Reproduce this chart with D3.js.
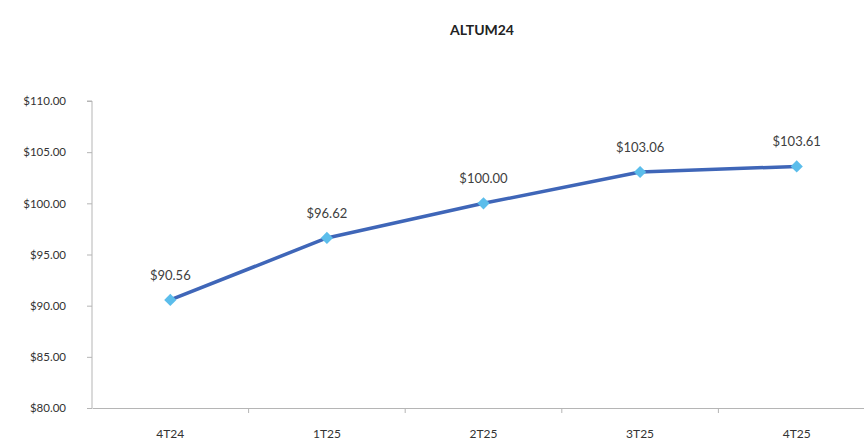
<!DOCTYPE html>
<html><head><meta charset="utf-8">
<script src="https://cdn.jsdelivr.net/npm/d3@7"></script>
<style>body{margin:0;background:#fff}svg{display:block}</style>
</head><body>
<svg id="c" width="864" height="447"></svg>
<script>
const title = "ALTUM24";
const categories = ["4T24","1T25","2T25","3T25","4T25"];
const values = [90.56, 96.62, 100.00, 103.06, 103.61];
const yTicks = [80,85,90,95,100,105,110];

const svg = d3.select("#c");
const font = "Lato, 'Open Sans', sans-serif";
const x = d3.scaleBand().domain(categories).range([92, 875]);
const y = d3.scaleLinear().domain([80,110]).range([408, 101]);
const fmt = d => "$" + d3.format(".2f")(d);

svg.append("text").attr("x", 482).attr("y", 35).attr("text-anchor","middle")
  .attr("font-family", font).attr("font-weight","bold").attr("font-size", 14).attr("fill","#222").text(title);

const ya = svg.append("g").attr("transform","translate(92,0)")
  .call(d3.axisLeft(y).tickValues(yTicks).tickFormat(fmt).tickSize(5).tickPadding(21));
ya.select(".domain").attr("stroke","#b5b5b5").attr("d","M-5,101H0V408");
ya.selectAll(".tick line").attr("stroke","#b5b5b5");
ya.selectAll(".tick text").attr("font-family", font).attr("font-size", 11.5).attr("fill","#333");

const xa = svg.append("g").attr("transform","translate(0,408)")
  .call(d3.axisBottom(x).tickSize(0).tickPadding(21));
xa.select(".domain").attr("stroke","#b5b5b5");
xa.selectAll(".tick text").attr("font-family", font).attr("font-size", 12).attr("fill","#333");
svg.append("g").selectAll("line").data(categories.slice(1)).join("line")
  .attr("x1", d => x(d)).attr("x2", d => x(d)).attr("y1", 408).attr("y2", 413).attr("stroke","#b5b5b5");

const line = d3.line().x((d,i)=>x(categories[i]) + x.bandwidth()/2).y(d=>y(d));
svg.append("path").datum(values).attr("d", line).attr("fill","none")
  .attr("stroke","#3F66B8").attr("stroke-width",3.5).attr("stroke-linejoin","round");

svg.append("g").selectAll("path").data(values).join("path")
  .attr("transform",(d,i)=>`translate(${x(categories[i])+x.bandwidth()/2},${y(d)})`)
  .attr("d", d3.symbol(d3.symbolDiamond2, 95)())
  .attr("fill","#5BBDEB");

svg.append("g").selectAll("text").data(values).join("text")
  .attr("x",(d,i)=>x(categories[i])+x.bandwidth()/2)
  .attr("y", d => y(d) - 20)
  .attr("text-anchor","middle").attr("font-family", font).attr("font-size", 13).attr("fill","#404040")
  .text(fmt);
</script>
</body></html>
